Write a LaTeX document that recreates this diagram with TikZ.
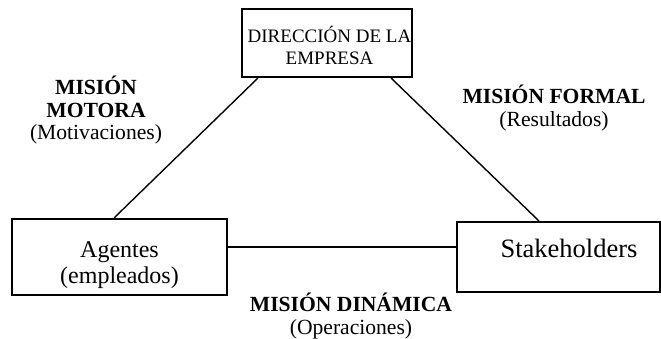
\documentclass[tikz,border=0pt]{standalone}
\usepackage{fontspec}
\setmainfont{Liberation Serif}
\begin{document}
\begin{tikzpicture}[x=1pt,y=-1pt,
  box/.style={draw, line width=2pt, inner sep=0pt},
  conn/.style={line width=1.4pt},
  lab/.style={align=center, font=\fontsize{21.6}{22.5}\selectfont, inner sep=0pt, anchor=base},
  boxtext/.style={align=center, inner sep=0pt, anchor=base}]
\useasboundingbox (0,0) rectangle (661,339);
% boxes
\node[box, minimum width=170pt, minimum height=68pt] (dir) at (327,43) {};
\node[box, minimum width=215pt, minimum height=76pt] (ag) at (119.5,257) {};
\node[box, minimum width=203pt, minimum height=70pt] (sh) at (558.5,257) {};
% box texts (base anchor = baseline of last line)
\node[boxtext, font=\fontsize{19}{21.6}\selectfont] (dirt) at (329.5,64.3) {DIRECCIÓN DE LA\\EMPRESA};
\node[boxtext, font=\fontsize{24}{26}\selectfont] (agt) at (119.5,283) {Agentes\\(empleados)};
\node[boxtext, font=\fontsize{26.5}{28}\selectfont] (sht) at (569,257) {Stakeholders};
% labels
\node[lab] (mm) at (96,140) {\textbf{MISIÓN}\\\textbf{MOTORA}\\(Motivaciones)};
\node[lab] (mf) at (554,126.5) {\textbf{MISIÓN FORMAL}\\(Resultados)};
\node[lab] (md) at (351,334) {\textbf{MISIÓN DINÁMICA}\\(Operaciones)};
% connectors
\draw[conn] ([xshift=17pt]dir.south west) -- ([xshift=103pt]ag.north west);
\draw[conn] ([xshift=-22pt]dir.south east) -- ([xshift=83pt]sh.north west);
\draw[conn] ([yshift=10pt]ag.east) -- ([yshift=10pt]sh.west);
\end{tikzpicture}
\end{document}
